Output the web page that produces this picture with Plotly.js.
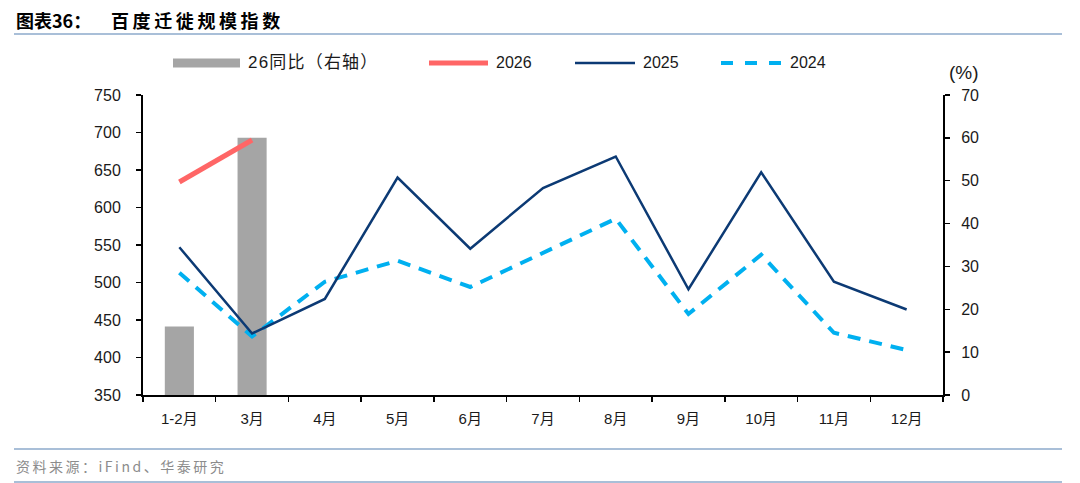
<!DOCTYPE html>
<html>
<head>
<meta charset="utf-8">
<script src="https://cdn.plot.ly/plotly-3.0.1.min.js"></script>
<style>
html,body{margin:0;padding:0;background:#fff;}
#chart{width:1080px;height:483px;}
.annotation[data-index="1"] .annotation-text{letter-spacing:3.6px;}
.annotation[data-index="2"] .annotation-text{letter-spacing:2.5px;}
.annotation[data-index="3"] .annotation-text{letter-spacing:1.2px;}
</style>
</head>
<body>
<div id="chart"></div>
<script>
const categories = ['1-2月','3月','4月','5月','6月','7月','8月','9月','10月','11月','12月'];
const yoy26 = [16, 60, null, null, null, null, null, null, null, null, null];
const idx2026 = [634, 690, null, null, null, null, null, null, null, null, null];
const idx2025 = [547, 432, 478, 640, 545, 626, 668, 491, 647, 501, 464];
const idx2024 = [513, 428, 501, 529, 494, 540, 585, 458, 537, 433, 410];
const leftTicks = [350, 400, 450, 500, 550, 600, 650, 700, 750];
const rightTicks = [0, 10, 20, 30, 40, 50, 60, 70];
const legendNames = ['26同比（右轴）', '2026', '2025', '2024'];

const FONT = 'Liberation Sans, Arial, Noto Sans CJK SC, sans-serif';
const CJK = 'Noto Sans CJK SC, Liberation Sans, sans-serif';
const C_BAR = '#a5a5a5', C26 = '#ff6666', C25 = '#0c3a74', C24 = '#00b0f0';

const traces = [
  {type:'bar', x:categories, y:yoy26, yaxis:'y', marker:{color:C_BAR}, name:legendNames[0], hoverinfo:'skip'},
  {type:'scatter', mode:'lines', x:categories, y:idx2024, yaxis:'y2', name:legendNames[3],
   line:{color:C24, width:4, dash:'13px,9px'}},
  {type:'scatter', mode:'lines', x:categories, y:idx2025, yaxis:'y2', name:legendNames[2],
   line:{color:C25, width:2.5}},
  {type:'scatter', mode:'lines', x:categories, y:idx2026, yaxis:'y2', name:legendNames[1],
   line:{color:C26, width:5}}
];

function px(x){ return (x - 143) / 800; }
function py(y){ return (395 - y) / 300; }

const shapes = [
  {type:'line', xref:'paper', yref:'paper', x0:px(14), x1:px(1062), y0:py(34), y1:py(34), line:{color:'#a9bfd8', width:2}},
  {type:'line', xref:'paper', yref:'paper', x0:px(14), x1:px(1062), y0:py(449), y1:py(449), line:{color:'#a9bfd8', width:2}},
  {type:'line', xref:'paper', yref:'paper', x0:px(14), x1:px(1062), y0:py(482), y1:py(482), line:{color:'#a9bfd8', width:2}},
  {type:'rect', xref:'paper', yref:'paper', x0:px(173), x1:px(240), y0:py(67.5), y1:py(58.5), line:{width:0}, fillcolor:C_BAR},
  {type:'line', xref:'paper', yref:'paper', x0:px(429), x1:px(488), y0:py(63), y1:py(63), line:{color:C26, width:5}},
  {type:'line', xref:'paper', yref:'paper', x0:px(575), x1:px(635), y0:py(63), y1:py(63), line:{color:C25, width:2.5}},
  {type:'line', xref:'paper', yref:'paper', x0:px(721), x1:px(783), y0:py(63), y1:py(63), line:{color:C24, width:4, dash:'12px,12px'}}
];

const annotations = [
  {xref:'paper', yref:'paper', x:px(14), y:py(20), xanchor:'left', yanchor:'middle', align:'left', showarrow:false,
   text:'<b>图表36：</b>', font:{family:CJK, size:18, color:'#000'}},
  {xref:'paper', yref:'paper', x:px(109), y:py(20), xanchor:'left', yanchor:'middle', align:'left', showarrow:false,
   text:'<b>百度迁徙规模指数</b>', font:{family:CJK, size:18, color:'#000'}},
  {xref:'paper', yref:'paper', x:px(14), y:py(466), xanchor:'left', yanchor:'middle', align:'left', showarrow:false,
   text:'资料来源：iFind、华泰研究', font:{family:CJK, size:14, color:'#8c8c8c'}},
  {xref:'paper', yref:'paper', x:px(246), y:py(63), xanchor:'left', yanchor:'middle', align:'left', showarrow:false,
   text:legendNames[0], font:{family:FONT, size:17, color:'#1a1a1a'}},
  {xref:'paper', yref:'paper', x:px(494), y:py(63), xanchor:'left', yanchor:'middle', align:'left', showarrow:false,
   text:legendNames[1], font:{family:FONT, size:16, color:'#1a1a1a'}},
  {xref:'paper', yref:'paper', x:px(641), y:py(63), xanchor:'left', yanchor:'middle', align:'left', showarrow:false,
   text:legendNames[2], font:{family:FONT, size:16, color:'#1a1a1a'}},
  {xref:'paper', yref:'paper', x:px(788), y:py(63), xanchor:'left', yanchor:'middle', align:'left', showarrow:false,
   text:legendNames[3], font:{family:FONT, size:16, color:'#1a1a1a'}},
  {xref:'paper', yref:'paper', x:px(964), y:py(72), xanchor:'center', yanchor:'middle', showarrow:false,
   text:'(%)', font:{family:FONT, size:19, color:'#1a1a1a'}}
];

const layout = {
  width:1080, height:483,
  margin:{l:143, r:137, t:95, b:88},
  paper_bgcolor:'#fff', plot_bgcolor:'#fff',
  showlegend:false,
  bargap:0.6,
  font:{family:FONT, size:16, color:'#1a1a1a'},
  xaxis:{type:'category', tickson:'boundaries', ticks:'outside', ticklen:5, tickwidth:1.5, tickcolor:'#000',
         showline:true, linecolor:'#000', linewidth:2, showgrid:false, zeroline:false,
         tickfont:{family:FONT, size:15}, ticklabelstandoff:9, range:[-0.5, 10.5]},
  yaxis:{side:'right', range:[0,70], tickvals:rightTicks, ticks:'outside', ticklen:5, tickwidth:1.5, tickcolor:'#000',
         showline:true, linecolor:'#000', linewidth:2, showgrid:false, zeroline:false,
         tickfont:{family:FONT, size:16}, ticklabelstandoff:8},
  yaxis2:{overlaying:'y', side:'left', range:[350,750], tickvals:leftTicks, ticks:'outside', ticklen:5, tickwidth:1.5, tickcolor:'#000',
          showline:true, linecolor:'#000', linewidth:2, showgrid:false, zeroline:false,
          tickfont:{family:FONT, size:16}, ticklabelstandoff:12},
  shapes:shapes,
  annotations:annotations
};

Plotly.newPlot('chart', traces, layout, {displayModeBar:false, staticPlot:true});
</script>
</body>
</html>
